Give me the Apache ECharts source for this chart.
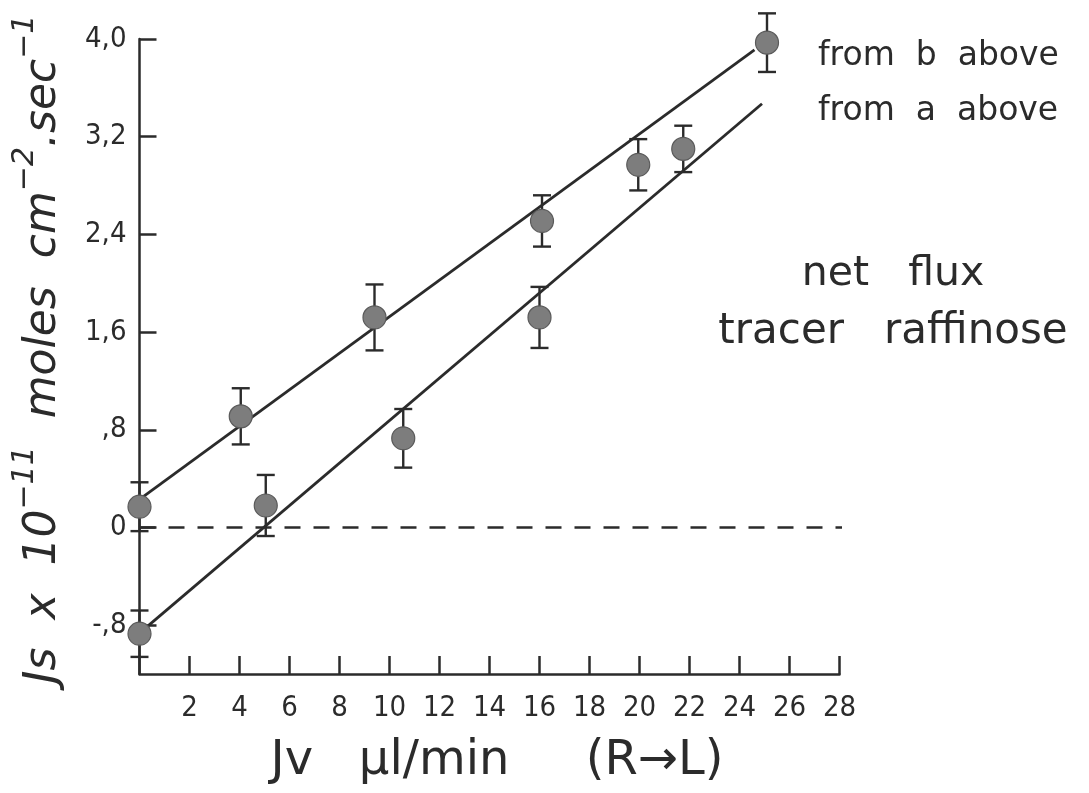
<!DOCTYPE html>
<html>
<head>
<meta charset="utf-8">
<script src="https://cdn.jsdelivr.net/npm/echarts@6/dist/echarts.min.js"></script>
<style>
html,body{margin:0;padding:0;background:#fff;}
#chart{width:1089px;height:793px;}
</style>
</head>
<body>
<div id="chart"></div>
<script>
// ---- data ----
// series "from b above" (upper line)
const bX = [0, 4.05, 9.4, 16.1, 19.95, 25.1];
const bY = [0.17, 0.91, 1.72, 2.51, 2.97, 3.97];
const bErr = [0.2, 0.23, 0.27, 0.21, 0.21, 0.24];
// series "from a above" (lower line)
const aX = [0, 5.05, 10.55, 16.0, 21.75];
const aY = [-0.87, 0.18, 0.73, 1.72, 3.10];
const aErr = [0.19, 0.25, 0.24, 0.25, 0.19];
// fitted lines (end points)
const fitBX = [0, 24.6];
const fitBY = [0.23, 3.91];
const fitAX = [0.2, 24.9];
const fitAY = [-0.83, 3.47];
// zero reference line
const zeroX = [0, 29.0];
const zeroY = [0, 0];
// ticks
const xTickValues = [2, 4, 6, 8, 10, 12, 14, 16, 18, 20, 22, 24, 26, 28];
const xTickLabels = ['2', '4', '6', '8', '10', '12', '14', '16', '18', '20', '22', '24', '26', '28'];
const yTickValues = [-0.8, 0, 0.8, 1.6, 2.4, 3.2, 4.0];
const yTickLabels = ['-,8', '0', ',8', '1,6', '2,4', '3,2', '4,0'];
// texts
const legendTexts = ['from  b  above', 'from  a  above'];
const noteTexts = ['net   flux', 'tracer   raffinose'];
const xTitle = 'Jv   \u00b5l/min     (R\u2192L)';

const FONT_N = '"DejaVu Sans Condensed", "Liberation Sans Narrow", "DejaVu Sans", sans-serif';
const FONT_W = '"DejaVu Sans", sans-serif';
const INK = '#2b2b2b';

const zip = (xs, ys) => xs.map((x, i) => [x, ys[i]]);
const errData = (xs, ys, es) => xs.map((x, i) => [x, ys[i] - es[i], ys[i] + es[i]]);
const allErr = errData(bX, bY, bErr).concat(errData(aX, aY, aErr));

const chart = echarts.init(document.getElementById('chart'), null, {renderer: 'canvas'});
const option = {
  backgroundColor: '#fff',
  animation: false,
  grid: {left: 139.5, right: 249.5, top: 39, bottom: 119, containLabel: false},
  xAxis: {
    type: 'value', min: 0, max: 28, interval: 2,
    axisLine: {show: true, onZero: false, lineStyle: {color: INK, width: 2.5}},
    axisTick: {show: true, inside: true, length: 18, lineStyle: {color: INK, width: 2.5}},
    axisLabel: {
      show: true, customValues: xTickValues, margin: 20,
      formatter: v => xTickLabels[xTickValues.indexOf(v)] || '',
      fontFamily: FONT_N, fontSize: 29, color: INK
    },
    splitLine: {show: false}
  },
  yAxis: {
    type: 'value', min: -1.2, max: 4.0,
    axisLine: {show: true, onZero: false, lineStyle: {color: INK, width: 2.5}},
    axisTick: {show: true, inside: true, length: 17, customValues: yTickValues, lineStyle: {color: INK, width: 2.5}},
    axisLabel: {
      show: true, customValues: yTickValues, margin: 13,
      formatter: v => {
        const i = yTickValues.findIndex(t => Math.abs(t - v) < 1e-6);
        return i >= 0 ? yTickLabels[i] : '';
      },
      fontFamily: FONT_N, fontSize: 29, color: INK, padding: [8, 0, 0, 0]
    },
    splitLine: {show: false}
  },
  series: [
    {
      type: 'line', data: zip(zeroX, zeroY), clip: false, symbol: 'none',
      lineStyle: {color: INK, width: 2.4, type: [16, 13]}, z: 1
    },
    {
      type: 'line', data: zip(fitBX, fitBY), symbol: 'none', clip: false,
      lineStyle: {color: INK, width: 2.8}, z: 2
    },
    {
      type: 'line', data: zip(fitAX, fitAY), symbol: 'none', clip: false,
      lineStyle: {color: INK, width: 2.8}, z: 2
    },
    {
      type: 'custom', data: allErr, clip: false, z: 3,
      renderItem: (params, api) => {
        const x = api.value(0);
        const lo = api.coord([x, api.value(1)]);
        const hi = api.coord([x, api.value(2)]);
        const hw = 9;
        const st = {stroke: INK, lineWidth: 2.4};
        return {
          type: 'group',
          children: [
            {type: 'line', shape: {x1: lo[0], y1: lo[1], x2: hi[0], y2: hi[1]}, style: st},
            {type: 'line', shape: {x1: lo[0] - hw, y1: lo[1], x2: lo[0] + hw, y2: lo[1]}, style: st},
            {type: 'line', shape: {x1: hi[0] - hw, y1: hi[1], x2: hi[0] + hw, y2: hi[1]}, style: st}
          ]
        };
      }
    },
    {
      type: 'scatter', name: 'from b above', data: zip(bX, bY), symbol: 'circle', symbolSize: 23, clip: false, z: 4,
      itemStyle: {color: '#7d7d7d', borderColor: '#5a5a5a', borderWidth: 1.2, opacity: 1}
    },
    {
      type: 'scatter', name: 'from a above', data: zip(aX, aY), symbol: 'circle', symbolSize: 23, clip: false, z: 4,
      itemStyle: {color: '#7d7d7d', borderColor: '#5a5a5a', borderWidth: 1.2, opacity: 1}
    }
  ],
  graphic: [
    {type: 'text', x: 818, y: 56, style: {text: legendTexts[0], font: '33px ' + FONT_W, fill: INK, align: 'left', verticalAlign: 'middle'}},
    {type: 'text', x: 818, y: 111, style: {text: legendTexts[1], font: '33px ' + FONT_W, fill: INK, align: 'left', verticalAlign: 'middle'}},
    {type: 'text', x: 893, y: 274, style: {text: noteTexts[0], font: '41px ' + FONT_W, fill: INK, align: 'center', verticalAlign: 'middle'}},
    {type: 'text', x: 893, y: 332, style: {text: noteTexts[1], font: '42px ' + FONT_W, fill: INK, align: 'center', verticalAlign: 'middle'}},
    {type: 'text', x: 497, y: 762, style: {text: xTitle, font: '48px ' + FONT_W, fill: INK, align: 'center', verticalAlign: 'middle'}},
    {
      type: 'text', x: 38, y: 349, rotation: Math.PI / 2,
      style: {
        text: '{m|Js  x  10}{s|\u221211}{m|  moles  cm}{s|\u22122}{m|.sec}{s|\u22121}',
        align: 'center', verticalAlign: 'middle', fill: INK,
        rich: {
          m: {font: 'italic 44px ' + FONT_W, fill: INK, verticalAlign: 'bottom', lineHeight: 56},
          s: {font: 'italic 30px ' + FONT_W, fill: INK, verticalAlign: 'top', lineHeight: 56}
        }
      }
    }
  ]
};
chart.setOption(option);
</script>
</body>
</html>
